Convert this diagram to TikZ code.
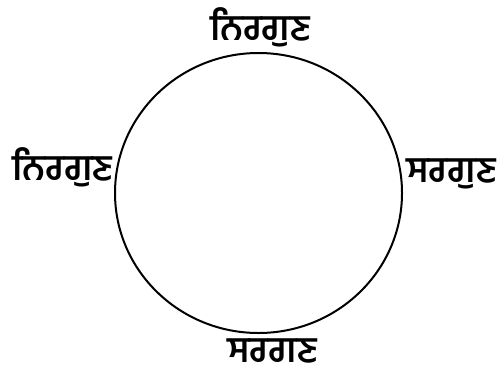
\documentclass[tikz,border=0pt]{standalone}
\usepackage{fontspec}
\usepackage{tikz}
\usetikzlibrary{shapes.geometric}
\newfontfamily\gurmukhi[Script=Gurmukhi]{Hind Jalandhar}

\begin{document}
\begin{tikzpicture}[x=1pt,y=-1pt,
  guna/.style={inner sep=0pt, font=\gurmukhi\bfseries\fontsize{36}{40}\selectfont}]
\useasboundingbox (0,0) rectangle (502,372);
\node[draw, ellipse, line width=2pt, minimum width=287pt, minimum height=280pt, inner sep=0pt] (chakra) at (258.5,193) {};
\node[guna, anchor=base] (upar) at (260,40) {ਨਿਰਗੁਣ};
\node[guna, anchor=base west] (khabbe) at (12,180) {ਨਿਰਗੁਣ};
\node[guna, anchor=base west] (sajje) at (406,182) {ਸਰਗੁਣ};
\node[guna, anchor=base, text depth=0pt] (thalle) at (272,362) {ਸਰਗਣ};
\end{tikzpicture}
\end{document}
